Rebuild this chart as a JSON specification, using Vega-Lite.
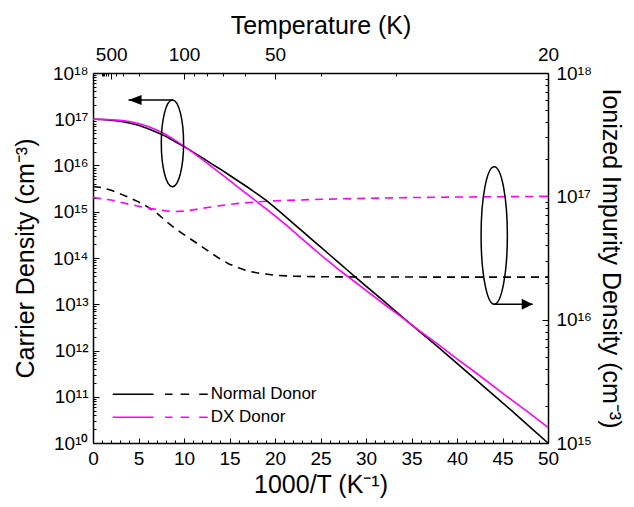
{
  "$schema": "https://vega.github.io/schema/vega-lite/v6.json",
  "width": 455,
  "height": 370,
  "autosize": {"type": "none"},
  "padding": {"left": 93, "top": 73, "right": 86, "bottom": 64},
  "datasets": {
    "carrier": [
      {"x": 0, "y": 1.0e17, "donor": "Normal Donor"},
      {"x": 1, "y": 9.886e16, "donor": "Normal Donor"},
      {"x": 2, "y": 9.55e16, "donor": "Normal Donor"},
      {"x": 3, "y": 9.016e16, "donor": "Normal Donor"},
      {"x": 4, "y": 8.318e16, "donor": "Normal Donor"},
      {"x": 5, "y": 7.413e16, "donor": "Normal Donor"},
      {"x": 6, "y": 6.31e16, "donor": "Normal Donor"},
      {"x": 7, "y": 5.248e16, "donor": "Normal Donor"},
      {"x": 8, "y": 4.266e16, "donor": "Normal Donor"},
      {"x": 9, "y": 3.311e16, "donor": "Normal Donor"},
      {"x": 10, "y": 2.57e16, "donor": "Normal Donor"},
      {"x": 11, "y": 1.95e16, "donor": "Normal Donor"},
      {"x": 12, "y": 1.479e16, "donor": "Normal Donor"},
      {"x": 13, "y": 1.096e16, "donor": "Normal Donor"},
      {"x": 14, "y": 8.318e15, "donor": "Normal Donor"},
      {"x": 15, "y": 6.166e15, "donor": "Normal Donor"},
      {"x": 16, "y": 4.571e15, "donor": "Normal Donor"},
      {"x": 17, "y": 3.388e15, "donor": "Normal Donor"},
      {"x": 18, "y": 2.455e15, "donor": "Normal Donor"},
      {"x": 19, "y": 1.778e15, "donor": "Normal Donor"},
      {"x": 20, "y": 1.23e15, "donor": "Normal Donor"},
      {"x": 21, "y": 8.318e14, "donor": "Normal Donor"},
      {"x": 22, "y": 5.623e14, "donor": "Normal Donor"},
      {"x": 23, "y": 3.802e14, "donor": "Normal Donor"},
      {"x": 24, "y": 2.57e14, "donor": "Normal Donor"},
      {"x": 25, "y": 1.738e14, "donor": "Normal Donor"},
      {"x": 26, "y": 1.175e14, "donor": "Normal Donor"},
      {"x": 27, "y": 7.943e13, "donor": "Normal Donor"},
      {"x": 28, "y": 5.37e13, "donor": "Normal Donor"},
      {"x": 29, "y": 3.631e13, "donor": "Normal Donor"},
      {"x": 30, "y": 2.455e13, "donor": "Normal Donor"},
      {"x": 32, "y": 1.148e13, "donor": "Normal Donor"},
      {"x": 34, "y": 5.248e12, "donor": "Normal Donor"},
      {"x": 36, "y": 2.455e12, "donor": "Normal Donor"},
      {"x": 38, "y": 1.148e12, "donor": "Normal Donor"},
      {"x": 40, "y": 5.248e11, "donor": "Normal Donor"},
      {"x": 42, "y": 2.399e11, "donor": "Normal Donor"},
      {"x": 44, "y": 1.096e11, "donor": "Normal Donor"},
      {"x": 46, "y": 5.012e10, "donor": "Normal Donor"},
      {"x": 48, "y": 2.239e10, "donor": "Normal Donor"},
      {"x": 50, "y": 1.0e10, "donor": "Normal Donor"},
      {"x": 0, "y": 1.0e17, "donor": "DX Donor"},
      {"x": 1, "y": 9.954e16, "donor": "DX Donor"},
      {"x": 2, "y": 9.772e16, "donor": "DX Donor"},
      {"x": 3, "y": 9.441e16, "donor": "DX Donor"},
      {"x": 4, "y": 8.913e16, "donor": "DX Donor"},
      {"x": 5, "y": 8.128e16, "donor": "DX Donor"},
      {"x": 6, "y": 7.079e16, "donor": "DX Donor"},
      {"x": 7, "y": 5.888e16, "donor": "DX Donor"},
      {"x": 8, "y": 4.677e16, "donor": "DX Donor"},
      {"x": 9, "y": 3.548e16, "donor": "DX Donor"},
      {"x": 10, "y": 2.63e16, "donor": "DX Donor"},
      {"x": 11, "y": 1.905e16, "donor": "DX Donor"},
      {"x": 12, "y": 1.349e16, "donor": "DX Donor"},
      {"x": 13, "y": 9.55e15, "donor": "DX Donor"},
      {"x": 14, "y": 6.761e15, "donor": "DX Donor"},
      {"x": 15, "y": 4.786e15, "donor": "DX Donor"},
      {"x": 16, "y": 3.311e15, "donor": "DX Donor"},
      {"x": 17, "y": 2.344e15, "donor": "DX Donor"},
      {"x": 18, "y": 1.66e15, "donor": "DX Donor"},
      {"x": 19, "y": 1.175e15, "donor": "DX Donor"},
      {"x": 20, "y": 8.128e14, "donor": "DX Donor"},
      {"x": 21, "y": 5.623e14, "donor": "DX Donor"},
      {"x": 22, "y": 3.802e14, "donor": "DX Donor"},
      {"x": 23, "y": 2.57e14, "donor": "DX Donor"},
      {"x": 24, "y": 1.738e14, "donor": "DX Donor"},
      {"x": 25, "y": 1.175e14, "donor": "DX Donor"},
      {"x": 26, "y": 8.128e13, "donor": "DX Donor"},
      {"x": 27, "y": 5.623e13, "donor": "DX Donor"},
      {"x": 28, "y": 3.981e13, "donor": "DX Donor"},
      {"x": 30, "y": 1.995e13, "donor": "DX Donor"},
      {"x": 32, "y": 1.0e13, "donor": "DX Donor"},
      {"x": 34, "y": 5.129e12, "donor": "DX Donor"},
      {"x": 36, "y": 2.57e12, "donor": "DX Donor"},
      {"x": 38, "y": 1.318e12, "donor": "DX Donor"},
      {"x": 40, "y": 6.607e11, "donor": "DX Donor"},
      {"x": 42, "y": 3.388e11, "donor": "DX Donor"},
      {"x": 44, "y": 1.698e11, "donor": "DX Donor"},
      {"x": 46, "y": 8.511e10, "donor": "DX Donor"},
      {"x": 48, "y": 4.365e10, "donor": "DX Donor"},
      {"x": 50, "y": 2.188e10, "donor": "DX Donor"}
    ],
    "ionized": [
      {"x": 0, "y": 1.202e17, "donor": "Normal Donor"},
      {"x": 1, "y": 1.175e17, "donor": "Normal Donor"},
      {"x": 2, "y": 1.122e17, "donor": "Normal Donor"},
      {"x": 3, "y": 1.047e17, "donor": "Normal Donor"},
      {"x": 4, "y": 9.772e16, "donor": "Normal Donor"},
      {"x": 5, "y": 9.016e16, "donor": "Normal Donor"},
      {"x": 6, "y": 8.222e16, "donor": "Normal Donor"},
      {"x": 7, "y": 7.328e16, "donor": "Normal Donor"},
      {"x": 8, "y": 6.31e16, "donor": "Normal Donor"},
      {"x": 9, "y": 5.495e16, "donor": "Normal Donor"},
      {"x": 10, "y": 4.898e16, "donor": "Normal Donor"},
      {"x": 11, "y": 4.365e16, "donor": "Normal Donor"},
      {"x": 12, "y": 3.89e16, "donor": "Normal Donor"},
      {"x": 13, "y": 3.467e16, "donor": "Normal Donor"},
      {"x": 14, "y": 3.09e16, "donor": "Normal Donor"},
      {"x": 15, "y": 2.818e16, "donor": "Normal Donor"},
      {"x": 16, "y": 2.63e16, "donor": "Normal Donor"},
      {"x": 17, "y": 2.483e16, "donor": "Normal Donor"},
      {"x": 18, "y": 2.399e16, "donor": "Normal Donor"},
      {"x": 19, "y": 2.344e16, "donor": "Normal Donor"},
      {"x": 20, "y": 2.291e16, "donor": "Normal Donor"},
      {"x": 22, "y": 2.249e16, "donor": "Normal Donor"},
      {"x": 25, "y": 2.228e16, "donor": "Normal Donor"},
      {"x": 30, "y": 2.218e16, "donor": "Normal Donor"},
      {"x": 40, "y": 2.213e16, "donor": "Normal Donor"},
      {"x": 50, "y": 2.213e16, "donor": "Normal Donor"},
      {"x": 0, "y": 9.772e16, "donor": "DX Donor"},
      {"x": 2, "y": 9.333e16, "donor": "DX Donor"},
      {"x": 4, "y": 8.61e16, "donor": "DX Donor"},
      {"x": 6, "y": 8.035e16, "donor": "DX Donor"},
      {"x": 7, "y": 7.816e16, "donor": "DX Donor"},
      {"x": 8, "y": 7.621e16, "donor": "DX Donor"},
      {"x": 9, "y": 7.534e16, "donor": "DX Donor"},
      {"x": 10, "y": 7.586e16, "donor": "DX Donor"},
      {"x": 11, "y": 7.762e16, "donor": "DX Donor"},
      {"x": 12, "y": 7.998e16, "donor": "DX Donor"},
      {"x": 14, "y": 8.414e16, "donor": "DX Donor"},
      {"x": 16, "y": 8.77e16, "donor": "DX Donor"},
      {"x": 18, "y": 9.016e16, "donor": "DX Donor"},
      {"x": 20, "y": 9.204e16, "donor": "DX Donor"},
      {"x": 25, "y": 9.462e16, "donor": "DX Donor"},
      {"x": 30, "y": 9.638e16, "donor": "DX Donor"},
      {"x": 35, "y": 9.772e16, "donor": "DX Donor"},
      {"x": 40, "y": 9.863e16, "donor": "DX Donor"},
      {"x": 45, "y": 9.931e16, "donor": "DX Donor"},
      {"x": 50, "y": 1.0e17, "donor": "DX Donor"}
    ],
    "ellipseLeft": [{"x": 8.73, "y": 3.02e16}],
    "ellipseRight": [{"x": 44.09, "y": 3.07e14}],
    "arrowLeft": [{"x": 8.79, "x2": 3.91, "y": 2.61e17}],
    "arrowRight": [{"x": 43.99, "x2": 48.32, "y": 1.0e13}]
  },
  "layer": [
    {
      "data": {"name": "carrier"},
      "mark": {"type": "point", "opacity": 0},
      "encoding": {
        "x": {
          "field": "x", "type": "quantitative",
          "scale": {"domain": [0, 50], "nice": false, "zero": false},
          "axis": {
            "orient": "bottom", "title": null, "labels": false, "domain": false, "grid": true, "gridOpacity": 0,
            "values": [1,2,3,4,6,7,8,9,11,12,13,14,16,17,18,19,21,22,23,24,26,27,28,29,31,32,33,34,36,37,38,39,41,42,43,44,46,47,48,49],
            "ticks": true, "tickColor": "#000000", "tickWidth": 1, "tickSize": -3
          }
        },
        "y": {
          "field": "y", "type": "quantitative",
          "scale": {"type": "log", "domain": [1e10, 1e18], "nice": false},
          "axis": {
            "orient": "left", "title": null, "labels": false, "domain": false, "grid": true, "gridOpacity": 0,
            "values": [2e10,3e10,4e10,5e10,6e10,7e10,8e10,9e10,2e11,3e11,4e11,5e11,6e11,7e11,8e11,9e11,2e12,3e12,4e12,5e12,6e12,7e12,8e12,9e12,2e13,3e13,4e13,5e13,6e13,7e13,8e13,9e13,2e14,3e14,4e14,5e14,6e14,7e14,8e14,9e14,2e15,3e15,4e15,5e15,6e15,7e15,8e15,9e15,2e16,3e16,4e16,5e16,6e16,7e16,8e16,9e16,2e17,3e17,4e17,5e17,6e17,7e17,8e17,9e17],
            "ticks": true, "tickColor": "#000000", "tickWidth": 1, "tickSize": -3
          }
        }
      }
    },
    {
      "data": {"name": "ionized"},
      "mark": {"type": "point", "opacity": 0},
      "encoding": {
        "x": {
          "field": "x", "type": "quantitative",
          "scale": {"domain": [0, 50], "nice": false, "zero": false},
          "axis": {
            "orient": "top", "title": null, "labels": false, "domain": false, "grid": true, "gridOpacity": 0,
            "values": [1, 1.1111, 1.25, 1.4286, 1.6667, 2.5, 3.3333, 5, 11.1111, 12.5, 14.2857, 16.6667, 25, 33.3333],
            "ticks": true, "tickColor": "#000000", "tickWidth": 1, "tickSize": -3
          }
        },
        "y": {
          "field": "y", "type": "quantitative",
          "scale": {"type": "log", "domain": [1e15, 1e18], "nice": false},
          "axis": {
            "orient": "right", "title": null, "labels": false, "domain": false, "grid": true, "gridOpacity": 0,
            "values": [2e15,3e15,4e15,5e15,6e15,7e15,8e15,9e15,2e16,3e16,4e16,5e16,6e16,7e16,8e16,9e16,2e17,3e17,4e17,5e17,6e17,7e17,8e17,9e17],
            "ticks": true, "tickColor": "#000000", "tickWidth": 1, "tickSize": -3
          }
        }
      }
    },
    {
      "data": {"name": "ionized"},
      "mark": {"type": "line", "strokeWidth": 1.6, "strokeDash": [8, 6]},
      "encoding": {
        "x": {
          "field": "x", "type": "quantitative",
          "scale": {"domain": [0, 50], "nice": false, "zero": false},
          "axis": {
            "orient": "top",
            "title": "Temperature (K)",
            "values": [2, 10, 20, 50],
            "labelExpr": "format(1000/datum.value, 'd')",
            "grid": true, "gridOpacity": 0,
            "domainColor": "black", "domainWidth": 1.5,
            "ticks": true, "tickColor": "#000000", "tickWidth": 1, "tickSize": -6,
            "labelColor": "black", "labelFont": "Liberation Sans", "labelFontSize": 19,
            "titleColor": "black", "titleFont": "Liberation Sans", "titleFontSize": 25, "titleFontWeight": "normal",
            "labelPadding": 15,
            "labelFlush": false,
            "titlePadding": 7
          }
        },
        "y": {
          "field": "y", "type": "quantitative",
          "scale": {"type": "log", "domain": [1e15, 1e18], "nice": false},
          "axis": {
            "orient": "right",
            "title": "Ionized Impurity Density (cm⁻³)",
            "values": [1e15, 1e16, 1e17, 1e18],
            "labelExpr": "'10' + ['¹⁰','¹¹','¹²','¹³','¹⁴','¹⁵','¹⁶','¹⁷','¹⁸'][round(log(datum.value)/LN10) - 10]",
            "grid": true, "gridOpacity": 0,
            "domainColor": "black", "domainWidth": 1.5,
            "ticks": true, "tickColor": "#000000", "tickWidth": 1, "tickSize": -6,
            "labelColor": "black", "labelFont": "Liberation Sans", "labelFontSize": 19,
            "titleColor": "black", "titleFont": "Liberation Sans", "titleFontSize": 25, "titleFontWeight": "normal",
            "labelPadding": 14,
            "titlePadding": 6
          }
        },
        "color": {
          "field": "donor", "type": "nominal",
          "scale": {"domain": ["Normal Donor", "DX Donor"], "range": ["#000000", "#FF00FF"]}
        }
      }
    },
    {
      "layer": [
        {
          "data": {"name": "carrier"},
          "mark": {"type": "line", "strokeWidth": 1.6},
          "encoding": {
            "x": {
              "field": "x", "type": "quantitative",
              "scale": {"domain": [0, 50], "nice": false, "zero": false},
              "axis": {
                "orient": "bottom",
                "title": "1000/T (K⁻¹)",
                "values": [0, 5, 10, 15, 20, 25, 30, 35, 40, 45, 50],
                "grid": true, "gridOpacity": 0,
                "domainColor": "black", "domainWidth": 1.5,
                "ticks": true, "tickColor": "#000000", "tickWidth": 1, "tickSize": -5,
                "labelColor": "black", "labelFont": "Liberation Sans", "labelFontSize": 19,
                "titleColor": "black", "titleFont": "Liberation Sans", "titleFontSize": 25, "titleFontWeight": "normal",
                "labelPadding": 11,
                "labelFlush": false,
                "titlePadding": 4
              }
            },
            "y": {
              "field": "y", "type": "quantitative",
              "scale": {"type": "log", "domain": [1e10, 1e18], "nice": false},
              "axis": {
                "orient": "left",
                "title": "Carrier Density (cm⁻³)",
                "values": [1e10, 1e11, 1e12, 1e13, 1e14, 1e15, 1e16, 1e17, 1e18],
                "labelExpr": "'10' + ['¹⁰','¹¹','¹²','¹³','¹⁴','¹⁵','¹⁶','¹⁷','¹⁸'][round(log(datum.value)/LN10) - 10]",
                "grid": true, "gridOpacity": 0,
                "domainColor": "black", "domainWidth": 1.5,
                "ticks": true, "tickColor": "#000000", "tickWidth": 1, "tickSize": -6,
                "labelColor": "black", "labelFont": "Liberation Sans", "labelFontSize": 19,
                "titleColor": "black", "titleFont": "Liberation Sans", "titleFontSize": 25, "titleFontWeight": "normal",
                "labelPadding": 11,
                "titlePadding": 14
              }
            },
            "color": {
              "field": "donor", "type": "nominal",
              "scale": {"domain": ["Normal Donor", "DX Donor"], "range": ["#000000", "#FF00FF"]},
              "legend": {
                "title": null,
                "orient": "none",
                "legendX": 18.7,
                "legendY": 310,
                "padding": 0,
                "symbolType": "M -1 0 L -0.14 0 M 0.1 0 L 0.26 0 M 0.43 0 L 0.61 0 M 0.82 0 L 1 0",
                "symbolSize": 9025,
                "symbolStrokeWidth": 1.5,
                "symbolFillColor": "transparent",
                "clipHeight": 22.4,
                "rowPadding": 0,
                "labelOffset": 2,
                "labelFont": "Liberation Sans",
                "labelFontSize": 17,
                "labelColor": "black"
              }
            }
          }
        },
        {
          "data": {"name": "ellipseLeft"},
          "mark": {"type": "point", "shape": "M0,-1C0.142,-1,0.257,-0.552,0.257,0C0.257,0.552,0.142,1,0,1C-0.142,1,-0.257,0.552,-0.257,0C-0.257,-0.552,-0.142,-1,0,-1Z", "size": 7517, "filled": false, "stroke": "black", "strokeWidth": 1.5, "opacity": 1},
          "encoding": {
            "x": {"field": "x", "type": "quantitative"},
            "y": {"field": "y", "type": "quantitative"}
          }
        },
        {
          "data": {"name": "ellipseRight"},
          "mark": {"type": "point", "shape": "M0,-1C0.1055,-1,0.191,-0.552,0.191,0C0.191,0.552,0.1055,1,0,1C-0.1055,1,-0.191,0.552,-0.191,0C-0.191,-0.552,-0.1055,-1,0,-1Z", "size": 18934, "filled": false, "stroke": "black", "strokeWidth": 1.5, "opacity": 1},
          "encoding": {
            "x": {"field": "x", "type": "quantitative"},
            "y": {"field": "y", "type": "quantitative"}
          }
        },
        {
          "data": {"name": "arrowLeft"},
          "mark": {"type": "rule", "color": "black", "strokeWidth": 1.5},
          "encoding": {
            "x": {"field": "x", "type": "quantitative"},
            "x2": {"field": "x2"},
            "y": {"field": "y", "type": "quantitative"}
          }
        },
        {
          "data": {"name": "arrowLeft"},
          "mark": {"type": "point", "shape": "M 0 0 L 2.6 -1 L 2.6 1 Z", "size": 100, "filled": true, "color": "black", "opacity": 1},
          "encoding": {
            "x": {"field": "x2", "type": "quantitative"},
            "y": {"field": "y", "type": "quantitative"}
          }
        },
        {
          "data": {"name": "arrowRight"},
          "mark": {"type": "rule", "color": "black", "strokeWidth": 1.5},
          "encoding": {
            "x": {"field": "x", "type": "quantitative"},
            "x2": {"field": "x2"},
            "y": {"field": "y", "type": "quantitative"}
          }
        },
        {
          "data": {"name": "arrowRight"},
          "mark": {"type": "point", "shape": "M 0 0 L -2.2 -1.1 L -2.2 1.1 Z", "size": 100, "filled": true, "color": "black", "opacity": 1},
          "encoding": {
            "x": {"field": "x2", "type": "quantitative"},
            "y": {"field": "y", "type": "quantitative"}
          }
        }
      ]
    }
  ],
  "resolve": {"scale": {"x": "independent", "y": "independent"}}
}
